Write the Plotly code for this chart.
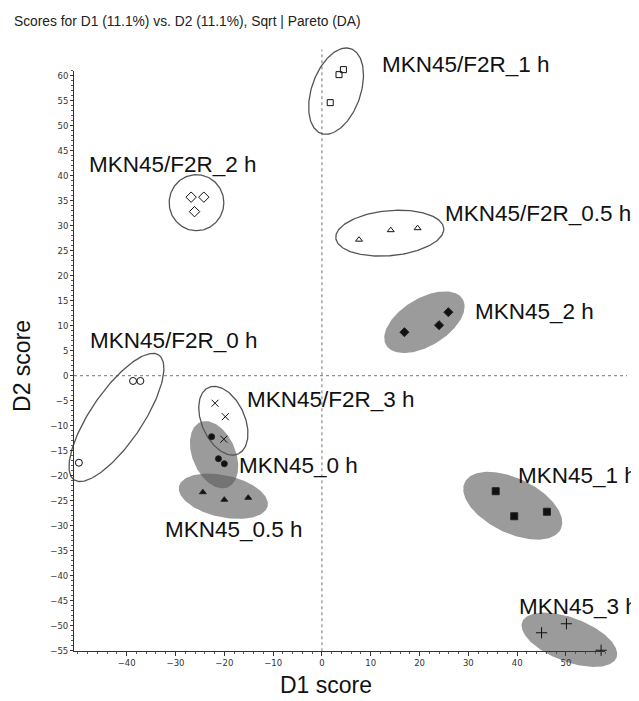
import numpy as np
import plotly.graph_objects as go

# page body has an 8px margin: the figure is sized/positioned to compensate
OFF = 8
W, H = 639 - OFF, 701 - OFF

# ---------------- data ----------------
title_text = "Scores for D1 (11.1%) vs. D2 (11.1%), Sqrt | Pareto (DA)"

groups = ["MKN45/F2R_0 h", "MKN45/F2R_0.5 h", "MKN45/F2R_1 h", "MKN45/F2R_2 h",
          "MKN45/F2R_3 h", "MKN45_0 h", "MKN45_0.5 h", "MKN45_1 h", "MKN45_2 h",
          "MKN45_3 h"]

f2r_0h_d1 = [-38.7, -37.2, -49.8]
f2r_0h_d2 = [-1.05, -1.05, -17.4]
f2r_05h_d1 = [7.6, 14.1, 19.6]
f2r_05h_d2 = [27.2, 29.1, 29.5]
f2r_1h_d1 = [4.4, 3.5, 1.7]
f2r_1h_d2 = [61.2, 60.2, 54.6]
f2r_2h_d1 = [-26.8, -24.2, -26.1]
f2r_2h_d2 = [35.7, 35.7, 32.8]
f2r_3h_d1 = [-21.9, -19.8, -20.1]
f2r_3h_d2 = [-5.5, -8.2, -12.7]
mkn_0h_d1 = [-22.6, -21.2, -20.0]
mkn_0h_d2 = [-12.2, -16.6, -17.6]
mkn_05h_d1 = [-24.4, -20.0, -15.1]
mkn_05h_d2 = [-23.3, -24.8, -24.4]
mkn_1h_d1 = [35.6, 39.4, 46.1]
mkn_1h_d2 = [-23.1, -28.1, -27.2]
mkn_2h_d1 = [25.9, 24.0, 16.9]
mkn_2h_d2 = [12.7, 10.1, 8.7]
mkn_3h_d1 = [45.0, 50.1, 57.2]
mkn_3h_d2 = [-51.4, -49.6, -54.9]

# confidence ellipses per group: centre, semi-axes (score units), angle (deg)
ell_cx = [-42.1, 13.9, 2.9, -25.7, -20.2, -22.1, -20.2, 39.1, 21.0, 50.7]
ell_cy = [-8.35, 28.5, 56.9, 34.6, -9.0, -15.8, -24.1, -26.0, 10.7, -52.8]
ell_a = [15.2, 11.1, 9.0, 5.6, 7.3, 7.1, 9.3, 10.9, 9.1, 10.3]
ell_b = [5.25, 4.5, 5.0, 5.6, 4.4, 4.4, 4.2, 5.5, 4.8, 4.4]
ell_ang = [55, 5, 70, 0, -65, -66, -12, -25, 30, -20]
ell_filled = [False, False, False, False, False, True, True, True, True, True]

# label anchor (left-middle) positions in score units
lab_d1 = [-48.0, 24.9, 11.9, -48.2, -15.8, -17.4, -32.6, 39.7, 30.9, 39.9]
lab_d2 = [7.0, 32.4, 62.2, 42.3, -4.8, -17.9, -30.8, -19.9, 12.9, -46.1]

x_ticks = [-40, -30, -20, -10, 0, 10, 20, 30, 40, 50]
y_ticks = list(range(-55, 61, 5))

# ---------------- layout geometry (reference px, shifted by OFF) ----------------
AX_L, AX_R, AX_T, AX_B = 74 - OFF, 605 - OFF, 71 - OFF, 655 - OFF
X0, X1, Y0, Y1 = -50.8, 58.0, -55.1, 61.0
BL, BR, BT, BB = 56 - OFF, 638 - OFF, 40 - OFF, 680 - OFF
kx = (AX_R - AX_L) / (X1 - X0)
ky = (AX_B - AX_T) / (Y1 - Y0)
bx0 = X0 - (AX_L - BL) / kx
bx1 = X1 + (BR - AX_R) / kx
by0 = Y0 - (BB - AX_B) / ky
by1 = Y1 + (AX_T - BT) / ky


def dom_x(a, b):
    return [a / W, b / W]


def dom_y(top, bot):
    return [(H - bot) / H, (H - top) / H]


def px(xp):
    return (xp - OFF) / W


def py(yp):
    return (H - (yp - OFF)) / H


fig = go.Figure()

t = np.linspace(0, 2 * np.pi, 181)


def ellipse(i):
    th = np.deg2rad(ell_ang[i])
    ex = ell_cx[i] + ell_a[i] * np.cos(t) * np.cos(th) - ell_b[i] * np.sin(t) * np.sin(th)
    ey = ell_cy[i] + ell_a[i] * np.cos(t) * np.sin(th) + ell_b[i] * np.sin(t) * np.cos(th)
    return ex, ey


for i in range(len(groups)):
    if ell_filled[i]:
        ex, ey = ellipse(i)
        fig.add_trace(go.Scatter(x=ex, y=ey, mode="lines", fill="toself",
                                 fillcolor="rgba(88,88,88,0.6)", line=dict(width=0),
                                 hoverinfo="skip", showlegend=False))

# zero reference lines
fig.add_trace(go.Scatter(x=[X0, 62.5], y=[0, 0], mode="lines",
                         line=dict(color="#777", width=1, dash="dot"),
                         hoverinfo="skip", showlegend=False))
fig.add_trace(go.Scatter(x=[0, 0], y=[Y0, 65.2], mode="lines",
                         line=dict(color="#777", width=1, dash="dot"),
                         hoverinfo="skip", showlegend=False))

for i in range(len(groups)):
    if not ell_filled[i]:
        ex, ey = ellipse(i)
        fig.add_trace(go.Scatter(x=ex, y=ey, mode="lines",
                                 line=dict(color="#555", width=1.3),
                                 hoverinfo="skip", showlegend=False))

series = [
    (f2r_0h_d1, f2r_0h_d2, "circle-open", 7),
    (f2r_05h_d1, f2r_05h_d2, "triangle-up-open", 6),
    (f2r_1h_d1, f2r_1h_d2, "square-open", 6),
    (f2r_2h_d1, f2r_2h_d2, "diamond-open", 8),
    (f2r_3h_d1, f2r_3h_d2, "x-thin-open", 7),
    (mkn_0h_d1, mkn_0h_d2, "circle", 6),
    (mkn_05h_d1, mkn_05h_d2, "triangle-up", 6),
    (mkn_1h_d1, mkn_1h_d2, "square", 7),
    (mkn_2h_d1, mkn_2h_d2, "diamond", 7),
    (mkn_3h_d1, mkn_3h_d2, "cross-thin-open", 8),
]
for name, (xs, ys, sym, sz) in zip(groups, series):
    fig.add_trace(go.Scatter(x=xs, y=ys, mode="markers", name=name,
                             marker=dict(symbol=sym, size=sz, color="#111",
                                         line=dict(color="#222", width=1)),
                             showlegend=False))

for name, lx, ly in zip(groups, lab_d1, lab_d2):
    fig.add_annotation(x=lx, y=ly, xref="x", yref="y", text=name, showarrow=False,
                       xanchor="left", yanchor="middle",
                       font=dict(family="Liberation Sans, Arial, sans-serif", size=22.5, color="#111"))

fig.add_trace(go.Scatter(x=[None], y=[None], xaxis="x2", yaxis="y2",
                         showlegend=False, hoverinfo="skip"))

hidden = dict(visible=False, showgrid=False, zeroline=False, fixedrange=True)
tickfont = dict(family="DejaVu Sans, Verdana, sans-serif", size=8.5, color="#333")

fig.update_layout(
    width=W, height=H,
    margin=dict(l=0, r=0, t=0, b=0),
    paper_bgcolor="white", plot_bgcolor="rgba(0,0,0,0)",
    showlegend=False,
    xaxis=dict(domain=dom_x(BL, BR), range=[bx0, bx1], anchor="y", **hidden),
    yaxis=dict(domain=dom_y(BT, BB), range=[by0, by1], anchor="x", **hidden),
    xaxis2=dict(domain=dom_x(AX_L, AX_R), range=[X0, X1], anchor="y2",
                showline=True, linecolor="#333", linewidth=1, mirror=False,
                showgrid=False, zeroline=False,
                ticks="outside", ticklen=4, tickwidth=1, tickcolor="#333",
                tickvals=x_ticks, tickfont=tickfont,
                minor=dict(ticks="outside", ticklen=2, dtick=2, tickcolor="#555"),
                fixedrange=True),
    yaxis2=dict(domain=dom_y(AX_T, AX_B), range=[Y0, Y1], anchor="x2",
                showline=True, linecolor="#333", linewidth=1, mirror=False,
                showgrid=False, zeroline=False,
                ticks="outside", ticklen=3, tickwidth=1, tickcolor="#333",
                tickvals=y_ticks, tickfont=tickfont,
                minor=dict(ticks="outside", ticklen=2, dtick=1, tickcolor="#555"),
                fixedrange=True),
)

fig.add_annotation(x=px(12), y=py(21.7), xref="paper", yref="paper",
                   text=title_text, showarrow=False, xanchor="left", yanchor="middle",
                   font=dict(family="Liberation Sans, Arial, sans-serif", size=13.8, color="#222"))
fig.add_annotation(x=px(326), y=py(689), xref="paper", yref="paper",
                   text="D1 score", showarrow=False, xanchor="center", yanchor="middle",
                   font=dict(family="Liberation Sans, Arial, sans-serif", size=23, color="#111"))
fig.add_annotation(x=px(22), y=py(368), xref="paper", yref="paper",
                   text="D2 score", showarrow=False, xanchor="center", yanchor="middle",
                   textangle=-90,
                   font=dict(family="Liberation Sans, Arial, sans-serif", size=23, color="#111"))

fig.write_html("out.html")
